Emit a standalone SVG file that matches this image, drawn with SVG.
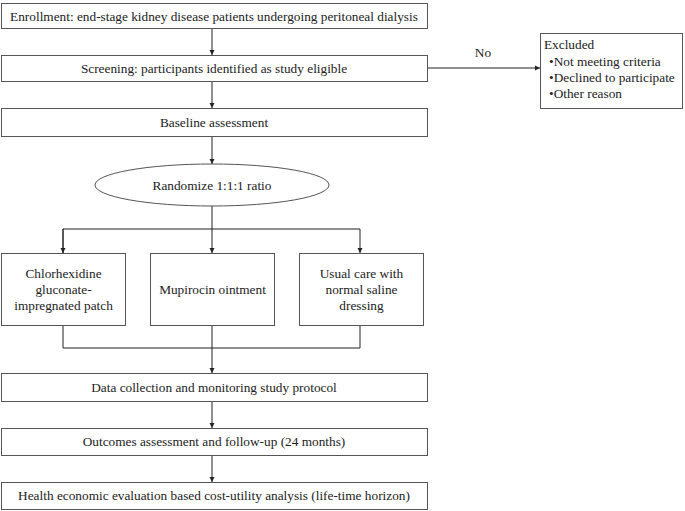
<svg xmlns="http://www.w3.org/2000/svg" width="685" height="511" viewBox="0 0 685 511">
<style>
.box{fill:#fff;stroke:#555;stroke-width:1}
.t{font-family:"Liberation Serif","Times New Roman",serif;font-size:13.3px;fill:#222;text-anchor:middle}
.tl{font-family:"Liberation Serif","Times New Roman",serif;font-size:13.3px;fill:#222}
.c{fill:none;stroke:#222;stroke-width:1}
</style>
<defs>
<marker id="ah" markerWidth="6" markerHeight="6" refX="5" refY="3" orient="auto" markerUnits="userSpaceOnUse">
<path d="M0,0.5 L5,3 L0,5.5 Z" fill="#222"/>
</marker>
</defs>
<rect width="685" height="511" fill="#fff"/>
<g id="connectors">
<line class="c" x1="212" y1="28" x2="212" y2="55" marker-end="url(#ah)"/>
<line class="c" x1="212" y1="82" x2="212" y2="108" marker-end="url(#ah)"/>
<line class="c" x1="428" y1="68" x2="540" y2="68" marker-end="url(#ah)"/>
<line class="c" x1="212" y1="137" x2="212" y2="164" marker-end="url(#ah)"/>
<line class="c" x1="212" y1="206" x2="212" y2="253" marker-end="url(#ah)"/>
<path class="c" d="M63,253 V229 H360 V253" marker-end="url(#ah)"/>
<line class="c" x1="63" y1="229" x2="63" y2="253" marker-end="url(#ah)"/>
<path class="c" d="M63,325 V348 H360 V325"/>
<line class="c" x1="212" y1="325" x2="212" y2="373" marker-end="url(#ah)"/>
<line class="c" x1="212" y1="402" x2="212" y2="428" marker-end="url(#ah)"/>
<line class="c" x1="212" y1="456" x2="212" y2="482" marker-end="url(#ah)"/>
<text class="t" x="483" y="57">No</text>
</g>
<g id="enrollment"><rect class="box" x="1.5" y="3.5" width="426" height="25"/><text class="t" x="214" y="21">Enrollment: end-stage kidney disease patients undergoing peritoneal dialysis</text></g>
<g id="screening"><rect class="box" x="1.5" y="55.5" width="426" height="26"/><text class="t" x="214" y="73">Screening: participants identified as study eligible</text></g>
<g id="excluded"><rect class="box" x="540.5" y="33.5" width="142" height="75"/>
<text class="tl" x="544" y="49">Excluded</text>
<text class="tl" x="549" y="66">•Not meeting criteria</text>
<text class="tl" x="549" y="82">•Declined to participate</text>
<text class="tl" x="549" y="98">•Other reason</text></g>
<g id="baseline"><rect class="box" x="1.5" y="108.5" width="426" height="28"/><text class="t" x="214" y="127">Baseline assessment</text></g>
<g id="randomize"><ellipse class="box" cx="212" cy="185" rx="117" ry="21"/><text class="t" x="212" y="190">Randomize 1:1:1 ratio</text></g>
<g id="chg"><rect class="box" x="1.5" y="253.5" width="124" height="72"/><text class="t" x="63.5" y="278">Chlorhexidine</text><text class="t" x="63.5" y="294">gluconate-</text><text class="t" x="63.5" y="310">impregnated patch</text></g>
<g id="mupirocin"><rect class="box" x="150.5" y="253.5" width="124" height="72"/><text class="t" x="212.5" y="294">Mupirocin ointment</text></g>
<g id="usualcare"><rect class="box" x="299.5" y="253.5" width="124" height="72"/><text class="t" x="361.5" y="278">Usual care with</text><text class="t" x="361.5" y="294">normal saline</text><text class="t" x="361.5" y="310">dressing</text></g>
<g id="datacollection"><rect class="box" x="1.5" y="373.5" width="426" height="28"/><text class="t" x="214" y="392">Data collection and monitoring study protocol</text></g>
<g id="outcomes"><rect class="box" x="1.5" y="428.5" width="426" height="27"/><text class="t" x="214" y="446">Outcomes assessment and follow-up (24 months)</text></g>
<g id="evaluation"><rect class="box" x="1.5" y="482.5" width="426" height="27"/><text class="t" x="214" y="500">Health economic evaluation based cost-utility analysis (life-time horizon)</text></g>
</svg>
